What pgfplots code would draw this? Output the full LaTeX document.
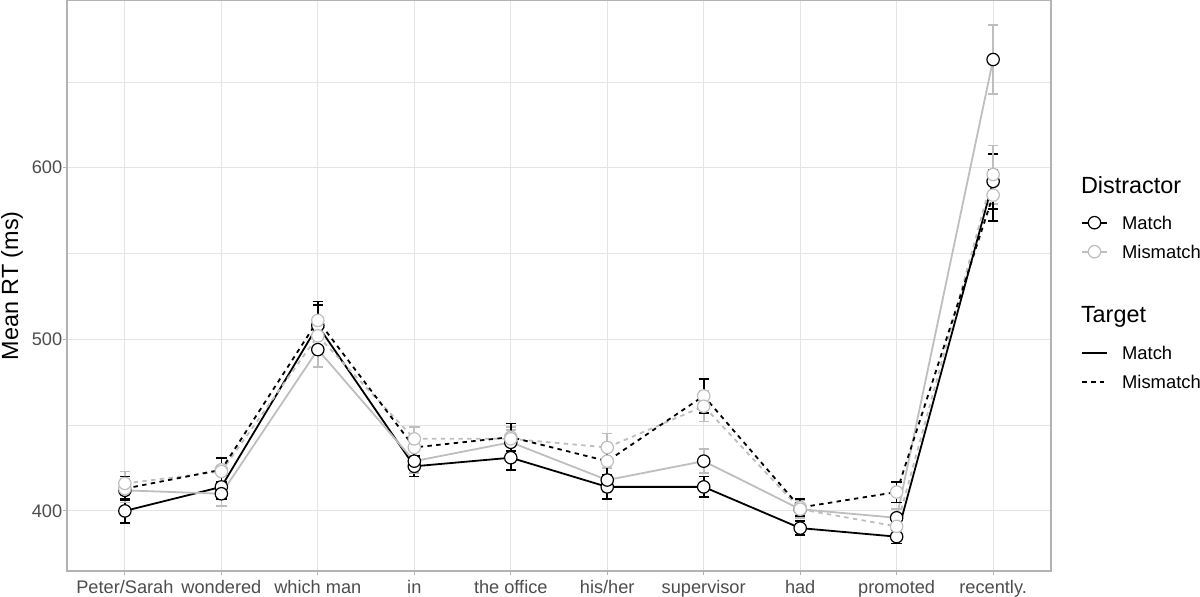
\documentclass[border=0pt]{standalone}
\usepackage{pgfplots}
\pgfplotsset{compat=1.18}
\usepackage{pgfplotstable}
\usepackage{fontspec}
\setmainfont{Liberation Sans}
\definecolor{lgray}{RGB}{190,190,190}
\definecolor{gridc}{RGB}{228,228,228}
\definecolor{borderc}{RGB}{179,179,179}
\definecolor{ticklab}{RGB}{77,77,77}

\pgfplotstableread{
x BS  BSe BD  BDe GS  GSe GD  GDe
0 400 7   413 7   412 7   416 7
1 414 7   424 7   410 7   423 8
2 508 12  511 11  494 10  502 9
3 426 6   437 7   429 7   442 7
4 431 7   443 8   440 7   442 7
5 414 7   429 8   418 7   437 8
6 414 6   467 10  429 7   461 9
7 390 4   402 5   401 5   401 5
8 385 4   411 6   396 5   391 5
9 592 16  584 15  663 20  596 17
}\data

\begin{document}
\begin{tikzpicture}
\useasboundingbox (0,0) rectangle (600bp,298.5bp);
\begin{axis}[
  at={(33.5bp,13bp)}, anchor=south west,
  scale only axis, width=492bp, height=285.25bp,
  xmin=-0.6, xmax=9.6, ymin=365, ymax=697.4,
  xtick={0,...,9},
  xticklabels={Peter/Sarah, wondered, which man, in, the office, his/her, supervisor, had, promoted, recently.},
  ytick={400,500,600},
  minor ytick={450,550,650},
  grid=both,
  major grid style={gridc, line width=0.55bp},
  minor grid style={gridc, line width=0.3bp},
  axis line style={borderc, line width=0.7bp},
  tick align=outside,
  tick pos=left,
  major tick length=2.2bp,
  minor tick length=0pt,
  tick style={borderc, line width=0.55bp},
  /pgf/number format/assume math mode=true,
  ticklabel style={font=\fontsize{9.1bp}{11bp}\selectfont, text=ticklab},
  yticklabel style={anchor=east, inner sep=0pt},
  xticklabel style={anchor=base, inner sep=0pt, yshift=-9bp},
  clip=false,
  error bars/error mark=|,
]
% lines with error bars
\addplot[black, line width=0.9bp, mark=none,
  error bars/.cd, y dir=both, y explicit,
  error bar style={black, solid, line width=0.8bp},
  error mark options={black, solid, line width=0.8bp, mark size=2.6bp}]
  table[x=x, y=BS, y error=BSe]{\data};
\addplot[lgray, line width=0.9bp, mark=none,
  error bars/.cd, y dir=both, y explicit,
  error bar style={lgray, solid, line width=0.8bp},
  error mark options={lgray, solid, line width=0.8bp, mark size=2.6bp}]
  table[x=x, y=GS, y error=GSe]{\data};
\addplot[lgray, line width=0.9bp, mark=none, dash pattern=on 2.2bp off 2.2bp,
  error bars/.cd, y dir=both, y explicit,
  error bar style={lgray, solid, line width=0.8bp},
  error mark options={lgray, solid, line width=0.8bp, mark size=2.6bp}]
  table[x=x, y=GD, y error=GDe]{\data};
\addplot[black, line width=0.9bp, mark=none, dash pattern=on 2.2bp off 2.2bp,
  error bars/.cd, y dir=both, y explicit,
  error bar style={black, solid, line width=0.8bp},
  error mark options={black, solid, line width=0.8bp, mark size=2.6bp}]
  table[x=x, y=BD, y error=BDe]{\data};
% points
\addplot[only marks, mark=*, mark size=3.1bp, mark options={fill=white, draw=black, line width=0.6bp, solid}]
  table[x=x, y=BS]{\data};
\addplot[only marks, mark=*, mark size=3.1bp, mark options={fill=white, draw=black, line width=0.6bp, solid}]
  table[x=x, y=GS]{\data};
\addplot[only marks, mark=*, mark size=3.1bp, mark options={fill=white, draw=lgray, line width=0.6bp, solid}]
  table[x=x, y=BD]{\data};
\addplot[only marks, mark=*, mark size=3.1bp, mark options={fill=white, draw=lgray, line width=0.6bp, solid}]
  table[x=x, y=GD]{\data};
\end{axis}
% y label
\node[rotate=90, anchor=base, inner sep=0pt, font=\fontsize{11.7bp}{14bp}\selectfont] at (9.1bp,155.6bp) {Mean RT (ms)};
% legend: Distractor
\node[anchor=base west, inner sep=0pt, font=\fontsize{11.7bp}{14bp}\selectfont] at (540.3bp,201.85bp) {Distractor};
\draw[black, line width=0.9bp] (541.2bp,187.15bp) -- (553.3bp,187.15bp);
\draw[black, fill=white, line width=0.6bp] (547.25bp,187.15bp) circle (3.1bp);
\node[anchor=base west, inner sep=0pt, font=\fontsize{9.2bp}{11bp}\selectfont] at (560.85bp,183.9bp) {Match};
\draw[lgray, line width=0.9bp] (541.2bp,172.65bp) -- (553.3bp,172.65bp);
\draw[lgray, fill=white, line width=0.6bp] (547.25bp,172.65bp) circle (3.1bp);
\node[anchor=base west, inner sep=0pt, font=\fontsize{9.2bp}{11bp}\selectfont] at (560.85bp,169.4bp) {Mismatch};
% legend: Target
\node[anchor=base west, inner sep=0pt, font=\fontsize{11.7bp}{14bp}\selectfont] at (540.3bp,137bp) {Target};
\draw[black, line width=0.9bp] (541.2bp,121.85bp) -- (553.3bp,121.85bp);
\node[anchor=base west, inner sep=0pt, font=\fontsize{9.2bp}{11bp}\selectfont] at (560.85bp,118.6bp) {Match};
\draw[black, line width=0.9bp, dash pattern=on 2.2bp off 2.2bp] (541.2bp,107.65bp) -- (553.3bp,107.65bp);
\node[anchor=base west, inner sep=0pt, font=\fontsize{9.2bp}{11bp}\selectfont] at (560.85bp,104.4bp) {Mismatch};
\end{tikzpicture}
\end{document}
